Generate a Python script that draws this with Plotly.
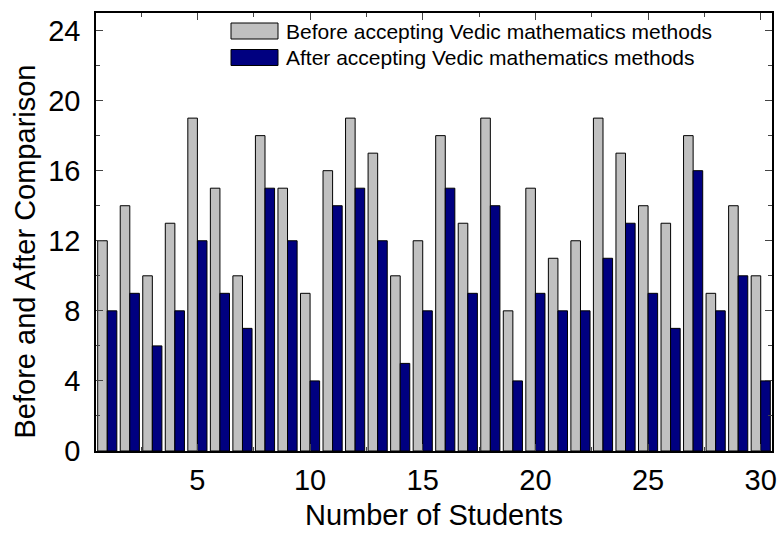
import plotly.graph_objects as go

students = list(range(1, 31))
before = [12, 14, 10, 13, 19, 15, 10, 18, 15, 9, 16, 19, 17, 10, 12, 18, 13, 19, 8, 15, 11, 12, 19, 17, 14, 13, 18, 9, 14, 10]
after = [8, 9, 6, 8, 12, 9, 7, 15, 12, 4, 14, 15, 12, 5, 8, 15, 9, 14, 4, 9, 8, 8, 11, 13, 9, 7, 16, 8, 10, 4]
series_names = ["Before accepting Vedic mathematics methods", "After accepting Vedic mathematics methods"]
series_colors = ["#C0C0C0", "#000080"]
y_ticks = [0, 4, 8, 12, 16, 20, 24]
x_ticks = [5, 10, 15, 20, 25, 30]
x_title = "Number of Students"
y_title = "Before and After Comparison"

font = "Liberation Sans, Arial, sans-serif"

W, H = 777, 533
L, R, T, B = 96, 5, 13, 82
PW, PH = W - L - R, H - T - B

def px(x):
    return (x - L) / PW

def py(y):
    return (H - B - y) / PH

fig = go.Figure()
for vals, name, col in zip([before, after], series_names, series_colors):
    fig.add_trace(go.Bar(x=students, y=vals, name=name,
                         marker=dict(color=col, line=dict(color="black", width=1))))

# legend drawn as swatches + labels
shapes = []
annotations = []
for i, (name, col) in enumerate(zip(series_names, series_colors)):
    y0 = 23 + i * 26.5
    shapes.append(dict(type="rect", xref="paper", yref="paper",
                       x0=px(231), x1=px(278), y0=py(y0 + 16), y1=py(y0),
                       fillcolor=col, line=dict(color="black", width=1)))
    annotations.append(dict(xref="paper", yref="paper", x=px(284), y=py(y0 + 8),
                            xanchor="left", yanchor="middle", text=name, showarrow=False,
                            font=dict(size=21, family=font, color="black")))

# axis titles
annotations.append(dict(xref="paper", yref="paper", x=px(434), y=py(533),
                        xanchor="center", yanchor="bottom", text=x_title, showarrow=False,
                        font=dict(size=29, family=font, color="black")))
annotations.append(dict(xref="paper", yref="paper", x=px(24), y=py(251.5),
                        xanchor="center", yanchor="middle", text=y_title, showarrow=False,
                        textangle=-90, font=dict(size=29, family=font, color="black")))

fig.update_layout(
    width=W, height=H,
    margin=dict(l=L, r=R, t=T, b=B),
    paper_bgcolor="white", plot_bgcolor="white",
    barmode="group", bargap=0.15, bargroupgap=0,
    font=dict(family=font, color="black", size=29),
    showlegend=False,
    shapes=shapes, annotations=annotations,
)
fig.update_xaxes(
    range=[0.5, 30.5], tickvals=x_ticks, ticks="inside", ticklen=7, tickwidth=1,
    showline=True, linecolor="black", linewidth=1.5, mirror="allticks",
    showgrid=False, zeroline=False, automargin=False,
    minor=dict(dtick=2.5, tick0=0, ticks="inside", ticklen=4, tickwidth=1),
    tickfont=dict(size=29), ticklabelstandoff=2,
)
fig.update_yaxes(
    range=[0, 25], tickvals=y_ticks, ticks="inside", ticklen=7, tickwidth=1,
    showline=True, linecolor="black", linewidth=1.5, mirror="allticks",
    showgrid=False, zeroline=False, automargin=False,
    minor=dict(dtick=2, tick0=0, ticks="inside", ticklen=4, tickwidth=1),
    tickfont=dict(size=29), ticklabelstandoff=8,
)

fig.write_html("out.html", config={"displayModeBar": False},
               post_script="document.body.style.margin='0';")
